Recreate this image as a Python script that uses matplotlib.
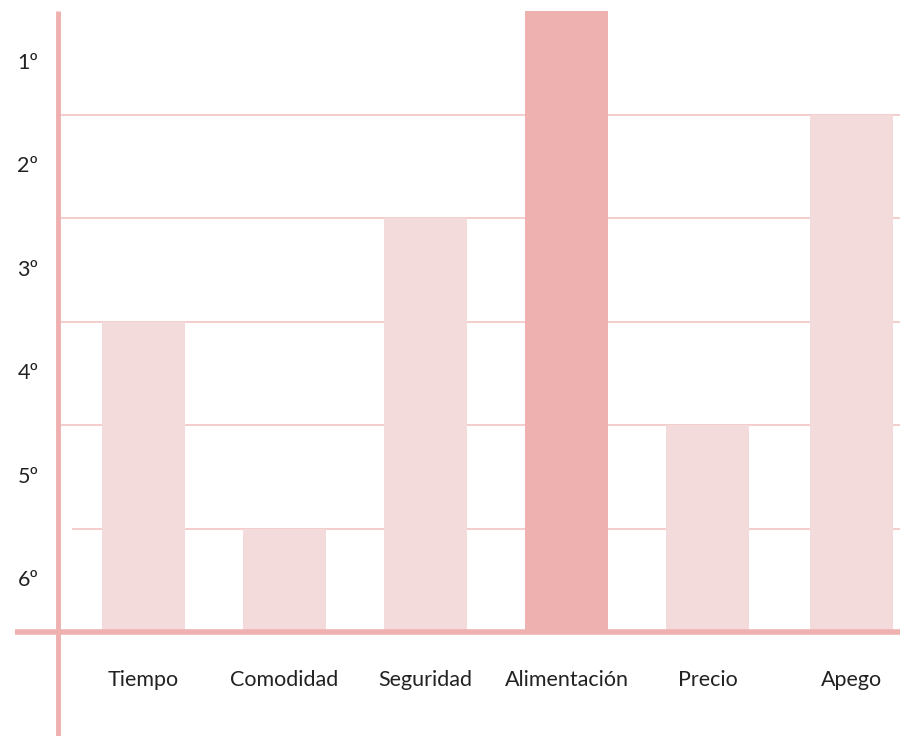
import matplotlib.pyplot as plt

categorias = ['Tiempo', 'Comodidad', 'Seguridad', 'Alimentación', 'Precio', 'Apego']
puntaje = [3, 1, 4, 6, 2, 5]
rangos = ['1º', '2º', '3º', '4º', '5º', '6º']

rosa = '#efb0b0'
rosa_claro = '#f3dbdb'
linea = '#f2c4c4'

plt.rcParams['font.family'] = ['Lato', 'DejaVu Sans']

fig = plt.figure(figsize=(9, 7.36), dpi=100)
ax = fig.add_axes([0, 0, 1, 1])
ax.set_xlim(-143.5 / 141, (900 - 143.5) / 141)
ax.set_ylim(-(736 - 632) / 103.5, 6 + 11 / 103.5)
ax.axis('off')

x = list(range(len(categorias)))
x[-1] = 5.02  # Apego queda un poco corrido a la derecha
colores = [rosa if v == max(puntaje) else rosa_claro for v in puntaje]
ax.bar(x, puntaje, width=83 / 141, color=colores, zorder=2)

# lineas de grilla horizontales
x0, x1 = ax.get_xlim()
eje_x = (58 - 143.5) / 141
for nivel in range(1, 6):
    inicio = (73 - 143.5) / 141 if nivel == 1 else eje_x
    ax.plot([inicio, x1], [nivel, nivel], color=linea, lw=1.2, zorder=1)

# ejes
ax.plot([eje_x, eje_x], [ax.get_ylim()[0], 6], color=rosa, lw=3.5, zorder=3,
        solid_capstyle='butt')
ax.plot([(15 - 143.5) / 141, x1], [0, 0], color=rosa, lw=4, zorder=3,
        solid_capstyle='butt')

for i, r in enumerate(rangos):
    ax.text((28 - 143.5) / 141, 5.5 - i, r, ha='center', va='center',
            fontsize=15.5, color='#222222')

for xi, c in zip(x, categorias):
    ax.text(xi, -0.46, c, ha='center', va='center', fontsize=15.5, color='#222222')

fig.savefig('out.png', dpi=100)
